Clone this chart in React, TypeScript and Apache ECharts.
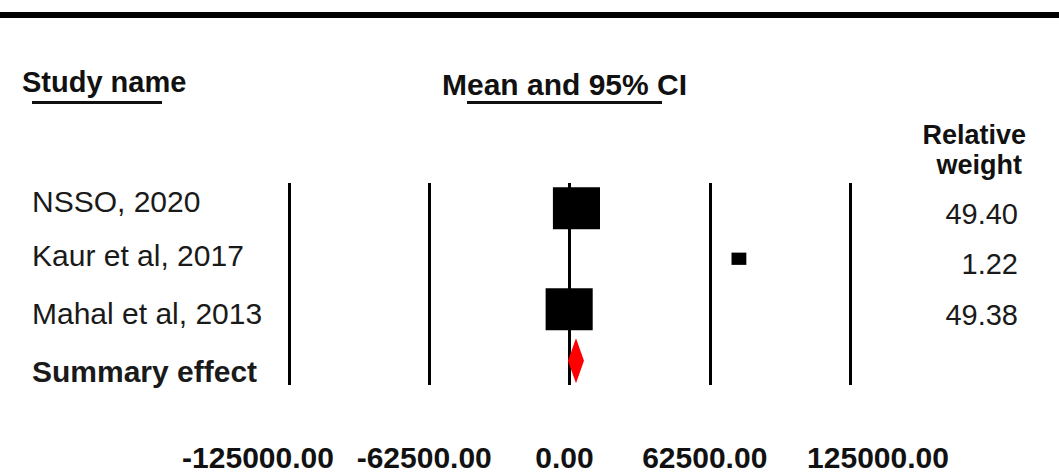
import React, { useEffect, useRef } from "react";
import * as echarts from "echarts";

const studies = ["NSSO, 2020", "Kaur et al, 2017", "Mahal et al, 2013", "Summary effect"];
const means = [3100, 75500, -150];
const weights = [49.4, 1.22, 49.38];
const summaryEffect = { lower: -700, mean: 2900, upper: 6450 };
const axisMin = -125000;
const axisMax = 125000;
const axisInterval = 62500;

const FONT = '"Liberation Sans", Arial, Helvetica, sans-serif';

export default function App() {
  const ref = useRef<HTMLDivElement>(null);
  useEffect(() => {
    if (!ref.current) return;
    const chart = echarts.init(ref.current, undefined, { renderer: "svg" });
    const namePad = [
      [0, 0, 14, 0],
      [0, 0, 6, 0],
      [8, 0, 0, 0],
      [24, 0, 0, 0],
    ];
    const nameRich: any = {};
    namePad.forEach((p, i) => {
      nameRich["r" + i] = {
        fontFamily: FONT,
        fontSize: 30,
        color: "#1a1a1a",
        fontWeight: i === 3 ? "bold" : "normal",
        padding: p,
      };
    });
    const xl = { fontFamily: FONT, fontSize: 30, fontWeight: "bold", color: "#111" };
    const baseX = {
      type: "value",
      min: axisMin,
      max: axisMax,
      interval: axisInterval,
      position: "bottom",
      axisLine: { show: false },
      axisTick: { show: false },
    };
    const option: any = {
      animation: false,
      backgroundColor: "#ffffff",
      textStyle: { fontFamily: FONT },
      grid: { left: 289, right: 209, top: 183, bottom: 82 },
      xAxis: [
        {
          ...baseX,
          splitLine: { show: true, lineStyle: { color: "#000", width: 3 } },
          axisLabel: {
            showMinLabel: true,
            showMaxLabel: true,
            hideOverlap: false,
            margin: 57,
            lineHeight: 30,
            formatter: (v: number) =>
              v === axisMin || v === axisMax ? "" : `{m|${v.toFixed(2)}}`,
            rich: { m: { ...xl, padding: [0, 10, 0, 0] } },
          },
        },
        {
          ...baseX,
          splitLine: { show: false },
          axisLabel: {
            showMinLabel: true,
            showMaxLabel: true,
            hideOverlap: false,
            margin: 57,
            lineHeight: 30,
            formatter: (v: number) =>
              v === axisMin ? `{lo|${v.toFixed(2)}}` : v === axisMax ? `{hi|${v.toFixed(2)}}` : "",
            rich: {
              lo: { ...xl, padding: [0, 62, 0, 0] },
              hi: { ...xl, padding: [0, 0, 0, 56] },
            },
          },
        },
      ],
      yAxis: [
        {
          type: "category",
          data: studies,
          inverse: true,
          position: "left",
          axisLine: { show: false },
          axisTick: { show: false },
          splitLine: { show: false },
          axisLabel: {
            align: "left",
            margin: 257,
            formatter: (v: string, i: number) => `{r${i}|${v}}`,
            rich: nameRich,
          },
        },
        {
          type: "category",
          data: studies,
          inverse: true,
          position: "right",
          axisLine: { show: false },
          axisTick: { show: false },
          splitLine: { show: false },
          axisLabel: {
            align: "right",
            margin: 168,
            formatter: (_v: string, i: number) =>
              i < weights.length ? `{w|${weights[i].toFixed(2)}}` : "",
            rich: {
              w: { fontFamily: FONT, fontSize: 29, color: "#1a1a1a", padding: [11, 0, 0, 0] },
            },
          },
        },
      ],
      series: [
        {
          type: "scatter",
          xAxisIndex: 0,
          yAxisIndex: 0,
          symbol: "rect",
          data: means.map((m, i) => [m, studies[i]]),
          symbolSize: (_val: any, params: any) => {
            const w = weights[params.dataIndex];
            return [14 + w * 0.67, 11.5 + w * 0.62];
          },
          itemStyle: { color: "#000", opacity: 1 },
          z: 3,
        },
        {
          type: "custom",
          xAxisIndex: 0,
          yAxisIndex: 0,
          encode: { x: [0, 1, 2], y: 3 },
          data: [[summaryEffect.lower, summaryEffect.mean, summaryEffect.upper, 3]],
          renderItem: (_params: any, api: any) => {
            const lo = api.coord([api.value(0), api.value(3)]);
            const mid = api.coord([api.value(1), api.value(3)]);
            const hi = api.coord([api.value(2), api.value(3)]);
            const h = 22.5;
            return {
              type: "polygon",
              shape: {
                points: [
                  [lo[0], mid[1] + 1],
                  [mid[0], mid[1] + 1 - h],
                  [hi[0], mid[1] + 1],
                  [mid[0], mid[1] + 1 + h],
                ],
              },
              style: { fill: "#ff0000" },
            };
          },
          z: 4,
        },
      ],
      graphic: [
        { type: "rect", left: 0, top: 12, shape: { width: 1059, height: 6 }, style: { fill: "#000" } },
        {
          type: "text",
          left: 22,
          top: 67,
          style: { text: "Study name", font: `bold 29px ${FONT}`, fill: "#111" },
        },
        { type: "line", shape: { x1: 32, y1: 102.5, x2: 162, y2: 102.5 }, style: { stroke: "#111", lineWidth: 3 } },
        {
          type: "text",
          left: 442,
          top: 69,
          style: { text: "Mean and 95% CI", font: `bold 30px ${FONT}`, fill: "#111" },
        },
        { type: "line", shape: { x1: 467, y1: 102.5, x2: 662, y2: 102.5 }, style: { stroke: "#111", lineWidth: 3 } },
        {
          type: "text",
          x: 1026,
          y: 121,
          style: {
            text: "Relative",
            font: `bold 27px ${FONT}`,
            fill: "#111",
            align: "right",
            verticalAlign: "top",
          },
        },
        {
          type: "text",
          x: 1022,
          y: 151,
          style: {
            text: "weight",
            font: `bold 27px ${FONT}`,
            fill: "#111",
            align: "right",
            verticalAlign: "top",
          },
        },
      ],
    };
    chart.setOption(option);
    return () => chart.dispose();
  }, []);
  return (
    <div
      ref={ref}
      style={{ position: "fixed", left: 0, top: 0, width: 1059, height: 472, background: "#fff" }}
    />
  );
}
